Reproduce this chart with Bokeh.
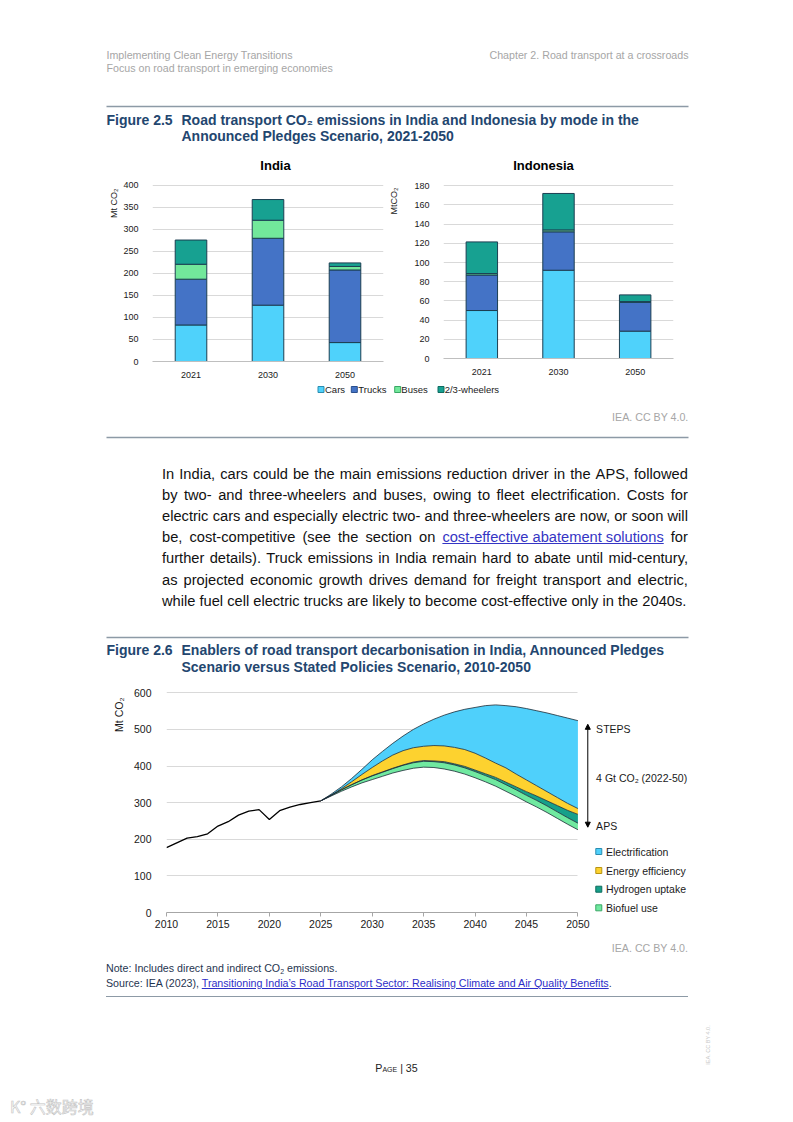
from bokeh.plotting import figure
from bokeh.models import (Range1d, FactorRange, Label, ColumnDataSource, FixedTicker,
                          Arrow, NormalHead, Div, Grid)
from bokeh.layouts import column, row
from bokeh.embed import file_html
from bokeh.resources import INLINE

FONT = "Liberation Sans"
GRAY = "#a6a6a6"
TITLE_C = "#23466f"
RULE_C = "#8d9aa6"
INK = "#1a1a1a"
EDGE = "#1c3f52"

# ---------------- Figure 2.5 data ----------------
years_25 = ["2021", "2030", "2050"]
modes = ["Cars", "Trucks", "Buses", "2/3-wheelers"]
india_cars = [83, 128, 43]
india_trucks = [104, 152, 165]
india_buses = [34, 41, 8]
india_23w = [55, 47, 8]
indo_cars = [50, 92, 28.5]
indo_trucks = [37, 40, 30]
indo_buses = [1.5, 2, 0.8]
indo_23w = [33, 38, 7]
india_ticks = [0, 50, 100, 150, 200, 250, 300, 350, 400]
indo_ticks = [0, 20, 40, 60, 80, 100, 120, 140, 160, 180]
mode_colors = ["#4fd2fb", "#4473c6", "#72e89b", "#17a191"]
mode_edges = ["#2b8db0", "#2a4f8e", "#3aa765", "#0e6b60"]

# ---------------- Figure 2.6 data ----------------
hist_years = list(range(2010, 2026))
hist_co2 = [177, 190, 203, 207, 215, 236, 248, 266, 277, 281, 254, 278, 288, 295, 300, 305]
proj_years = list(range(2025, 2051))
aps = [305, 318, 331, 343, 354, 363, 372, 381, 388, 394, 397, 396, 392, 386, 378,
       368, 357, 345, 331, 317, 302, 288, 273, 257, 241, 226]
biofuel = [0, 2, 4, 6, 8, 10, 11, 12, 14, 15, 16, 16, 17, 17, 17,
           17, 17, 18, 18, 18, 18, 18, 18, 18, 18, 18]
hydrogen = [0, 0, 0, 0, 0, 1, 1, 1, 1, 2, 2, 2, 3, 3, 4,
            4, 5, 6, 7, 8, 10, 12, 14, 17, 20, 24]
efficiency = [0, 0, 3, 8, 15, 22, 30, 36, 39, 39, 39, 42, 43, 45, 46,
              46, 43, 39, 39, 35, 32, 28, 25, 22, 19, 16]
electrification = [0, 3, 5, 9, 14, 21, 26, 32, 40, 50, 61, 72, 84, 97, 110,
                    125, 143, 159, 170, 184, 195, 205, 215, 224, 233, 240]
enablers = ["Electrification", "Energy efficiency", "Hydrogen uptake", "Biofuel use"]
enabler_colors = ["#4fd0fb", "#fdd22f", "#17a08a", "#70e9a0"]
enabler_edges = ["#2b8db0", "#b89412", "#0e6b5c", "#3aa765"]
x_ticks_26 = [2010, 2015, 2020, 2025, 2030, 2035, 2040, 2045, 2050]
y_ticks_26 = [0, 100, 200, 300, 400, 500, 600]


def lbl(p, x, y, text, size, color=INK, bold=False, align="left", baseline="middle",
        angle=0, font=FONT):
    p.add_layout(Label(x=x, y=y, text=text, text_font=font, text_font_size=f"{size}px",
                       text_color=color, text_font_style="bold" if bold else "normal",
                       text_align=align, text_baseline=baseline, angle=angle,
                       angle_units="deg"))


def page_fig(x0, x1, y0, y1):
    p = figure(width=x1 - x0, height=y1 - y0, x_range=Range1d(x0, x1), y_range=Range1d(y1, y0),
               x_axis_type=None, y_axis_type=None, min_border=0, toolbar_location=None,
               output_backend="svg", title=None, outline_line_color=None)
    p.background_fill_color = "white"
    p.border_fill_color = "white"
    return p


def rule(p, y):
    p.segment(x0=[106], x1=[688], y0=[y], y1=[y], line_color=RULE_C, line_width=1.5)


def W(p):
    return column(p, spacing=0)


# ---------------- Block A: header + title 2.5 + chart titles ----------------
top = page_fig(0, 793, 0, 178)
lbl(top, 106, 54, "Implementing Clean Energy Transitions", 10.67, GRAY)
lbl(top, 106, 67, "Focus on road transport in emerging economies", 10.67, GRAY)
lbl(top, 688, 54, "Chapter 2. Road transport at a crossroads", 10.67, GRAY, align="right")
rule(top, 106)
lbl(top, 106, 119, "Figure 2.5", 14, TITLE_C, bold=True)
lbl(top, 181, 119, "Road transport CO₂ emissions in India and Indonesia by mode in the", 14, TITLE_C, bold=True)
lbl(top, 181, 135, "Announced Pledges Scenario, 2021-2050", 14, TITLE_C, bold=True)
lbl(top, 275, 165, "India", 13, "#000", bold=True, align="center")
lbl(top, 543, 165, "Indonesia", 13, "#000", bold=True, align="center")


# ---------------- Bar charts ----------------
def bar_chart(vals, width, height, mbl, mbr, mbt, mbb, y_end, ticks):
    src = ColumnDataSource(dict(year=years_25, **{m: v for m, v in zip(modes, vals)}))
    p = figure(width=width, height=height, x_range=FactorRange(*years_25),
               y_range=Range1d(0, y_end), min_border_left=mbl, min_border_right=mbr,
               min_border_top=mbt, min_border_bottom=mbb, toolbar_location=None,
               output_backend="svg", title=None, outline_line_color=None)
    p.background_fill_color = "white"
    p.border_fill_color = "white"
    p.vbar_stack(modes, x="year", width=0.41, source=src, fill_color=mode_colors,
                 line_color=EDGE, line_width=1)
    p.yaxis.ticker = FixedTicker(ticks=ticks)
    p.yaxis.axis_line_color = None
    p.yaxis.major_tick_line_color = None
    p.yaxis.minor_tick_line_color = None
    p.yaxis.major_label_standoff = 8
    p.yaxis.major_label_text_font = FONT
    p.yaxis.major_label_text_font_size = "9px"
    p.yaxis.major_label_text_color = INK
    p.xaxis.axis_line_color = "#bfbfbf"
    p.xaxis.major_tick_line_color = None
    p.xaxis.major_label_standoff = 4
    p.xaxis.major_label_text_font = FONT
    p.xaxis.major_label_text_font_size = "9px"
    p.xaxis.major_label_text_color = INK
    p.xgrid.visible = False
    p.ygrid.grid_line_color = "#d9d9d9"
    return p


# page x: labL 0-120 | India 120-388 | labM 388-400 | Indonesia 400-793 ; page y 178-382
p_in = bar_chart([india_cars, india_trucks, india_buses, india_23w], 268, 204,
                 30, 5, 3, 21, 409, india_ticks)
p_id = bar_chart([indo_cars, indo_trucks, indo_buses, indo_23w], 393, 204,
                 43, 120, 2, 24, 185.5, indo_ticks)
labL = page_fig(0, 120, 178, 382)
lbl(labL, 113, 188, "Mt CO₂", 9, INK, align="right", angle=90)
labM = page_fig(388, 400, 178, 382)
lbl(labM, 393.5, 187, "MtCO₂", 9, INK, align="right", angle=90)

# ---------------- Block C: legend 2.5 ----------------
leg = page_fig(0, 793, 382, 450)
leg_sq_x = [320.5, 353.8, 397.2, 440.5]
leg_tx_x = [324.5, 357.8, 400.8, 444.2]
leg.scatter(x=leg_sq_x, y=[389] * 4, marker="square", size=6, fill_color=mode_colors,
            line_color=mode_edges, line_width=1)
for m, tx in zip(modes, leg_tx_x):
    lbl(leg, tx, 389, m, 9.5, INK)
lbl(leg, 688, 416, "IEA. CC BY 4.0.", 10.67, GRAY, align="right")
rule(leg, 437)

# ---------------- Paragraph ----------------
LINK = '<span style="color:#3535c4;text-decoration:underline;">cost-effective abatement solutions</span>'
para_lines = [
    "In India, cars could be the main emissions reduction driver in the APS, followed".split(" "),
    "by two- and three-wheelers and buses, owing to fleet electrification. Costs for".split(" "),
    "electric cars and especially electric two- and three-wheelers are now, or soon will".split(" "),
    ["be,", "cost-competitive", "(see", "the", "section", "on", LINK, "for"],
    "further details). Truck emissions in India remain hard to abate until mid-century,".split(" "),
    "as projected economic growth drives demand for freight transport and electric,".split(" "),
    "while fuel cell electric trucks are likely to become cost-effective only in the 2040s.".split(" "),
]
para_centers = [474, 495, 516, 537, 558, 580, 601]
ph = ['<div style="position:relative;width:793px;height:170px;font-family:\'Liberation Sans\',Arial,sans-serif;font-size:14.67px;color:#111;">']
for i, (words, cy) in enumerate(zip(para_lines, para_centers)):
    t = cy - 450 - 10.5
    if i < len(para_lines) - 1:
        inner = "".join(f"<span>{w}</span>" for w in words)
        ph.append(f'<div style="position:absolute;left:162px;top:{t}px;width:526px;height:21px;'
                  f'line-height:21px;display:flex;justify-content:space-between;white-space:nowrap;">{inner}</div>')
    else:
        ph.append(f'<div style="position:absolute;left:162px;top:{t}px;height:21px;line-height:21px;'
                  f'white-space:nowrap;">{" ".join(words)}</div>')
ph.append("</div>")
para = Div(text="".join(ph), width=793, height=170, margin=(0, 0, 0, 0))

# ---------------- Block E: title 2.6 ----------------
mid = page_fig(0, 793, 620, 680)
rule(mid, 637)
lbl(mid, 106, 649, "Figure 2.6", 14, TITLE_C, bold=True)
lbl(mid, 181, 649, "Enablers of road transport decarbonisation in India, Announced Pledges", 14, TITLE_C, bold=True)
lbl(mid, 181, 666, "Scenario versus Stated Policies Scenario, 2010-2050", 14, TITLE_C, bold=True)

# ---------------- Figure 2.6 chart (page x 130-793, y 680-940) ----------------
p26 = figure(width=663, height=260, x_range=Range1d(2010, 2070.96), y_range=Range1d(0, 620),
             min_border_left=31, min_border_right=0, min_border_top=5, min_border_bottom=28,
             toolbar_location=None, output_backend="svg", title=None, outline_line_color=None)
p26.background_fill_color = "white"
p26.border_fill_color = "white"
p26.xaxis.ticker = FixedTicker(ticks=x_ticks_26)
p26.xaxis.bounds = (2010, 2050)
p26.xaxis.axis_line_color = "#a6a6a6"
p26.xaxis.major_tick_line_color = "#a6a6a6"
p26.xaxis.major_tick_out = 4
p26.xaxis.major_tick_in = 0
p26.xaxis.minor_tick_line_color = None
p26.xaxis.major_label_standoff = 3
p26.xaxis.major_label_text_font = FONT
p26.xaxis.major_label_text_font_size = "10.5px"
p26.xaxis.major_label_text_color = INK
p26.yaxis.ticker = FixedTicker(ticks=y_ticks_26)
p26.yaxis.axis_line_color = None
p26.yaxis.major_tick_line_color = None
p26.yaxis.minor_tick_line_color = None
p26.yaxis.major_label_standoff = 9
p26.yaxis.major_label_text_font = FONT
p26.yaxis.major_label_text_font_size = "10.5px"
p26.yaxis.major_label_text_color = INK
p26.xgrid.visible = False
p26.ygrid.grid_line_color = "#d9d9d9"
if "cross_bounds" in Grid.properties():
    p26.ygrid.cross_bounds = (2010, 2050)
else:
    p26.quad(left=[2050.05], right=[2071], bottom=[0], top=[620], fill_color="white", line_color=None)

src26 = ColumnDataSource(dict(year=proj_years, aps=aps, bio=biofuel, h2=hydrogen,
                              eff=efficiency, elec=electrification))
stack_keys = ["aps", "bio", "h2", "eff", "elec"]
p26.varea_stack(stack_keys, x="year", source=src26,
                fill_color=["white", enabler_colors[3], enabler_colors[2], enabler_colors[1], enabler_colors[0]],
                fill_alpha=[0, 1, 1, 1, 1])
p26.vline_stack(stack_keys, x="year", source=src26, line_color="#1c2b36", line_width=0.8)
p26.line(hist_years, hist_co2, line_color="black", line_width=1.3)

steps_2050 = aps[-1] + biofuel[-1] + hydrogen[-1] + efficiency[-1] + electrification[-1]
p26.add_layout(Arrow(start=NormalHead(size=5, line_color="black", fill_color="black"),
                     end=NormalHead(size=5, line_color="black", fill_color="black"),
                     x_start=2050.96, y_start=aps[-1] + 7, x_end=2050.96, y_end=steps_2050 - 10,
                     line_color="black", line_width=1))
lbl(p26, 2051.77, 502.5, "STEPS", 10.5, INK)
lbl(p26, 2051.77, 368.7, "4 Gt CO₂ (2022-50)", 10.5, INK)
lbl(p26, 2051.77, 234.9, "APS", 10.5, INK)
leg26_y = [166.6, 114.7, 63.6, 12.8]
p26.scatter(x=[2052.03] * 4, y=leg26_y, marker="square", size=6, fill_color=enabler_colors,
            line_color=enabler_edges, line_width=1)
for name, yy in zip(enablers, leg26_y):
    lbl(p26, 2052.73, yy, name, 10.5, INK)
lab26 = page_fig(0, 130, 680, 940)
lbl(lab26, 118, 697, "Mt CO₂", 10.5, INK, align="right", angle=90)

# ---------------- Bottom block (page y 940-1122) ----------------
bottom_html = f'''<div style="position:relative;width:793px;height:182px;font-family:'Liberation Sans',Arial,sans-serif;">
<div style="position:absolute;right:105px;top:1px;font-size:10.67px;line-height:14px;color:{GRAY};white-space:nowrap;">IEA. CC BY 4.0.</div>
<div style="position:absolute;left:106px;top:21px;font-size:10.67px;line-height:14px;color:#1f3550;white-space:nowrap;">Note: Includes direct and indirect CO<span style="font-size:7px;vertical-align:-2px;">2</span> emissions.</div>
<div style="position:absolute;left:106px;top:36px;font-size:10.67px;line-height:14px;color:#1f3550;white-space:nowrap;">Source: IEA (2023), <span style="color:#2e2ec8;text-decoration:underline;">Transitioning India’s Road Transport Sector: Realising Climate and Air Quality Benefits</span>.</div>
<div style="position:absolute;left:106px;top:56px;width:582px;height:0;border-top:1.5px solid {RULE_C};"></div>
<div style="position:absolute;left:0;top:121px;width:793px;text-align:center;font-size:10.67px;line-height:14px;color:#222;"><span style="font-variant:small-caps;">Page</span> | 35</div>
<div style="position:absolute;left:709px;top:105px;transform:translate(-50%,-50%) rotate(-90deg);font-size:5.5px;color:#c8c8c8;white-space:nowrap;">IEA. CC BY 4.0.</div>
<div style="position:absolute;left:10px;top:157px;font-family:'Noto Sans CJK SC';font-size:16px;line-height:18px;color:#ffffff;-webkit-text-stroke:0.6px #c4c4c4;white-space:nowrap;">K° 六数跨境</div>
</div>'''
bottom = Div(text=bottom_html, width=793, height=182, margin=(0, 0, 0, 0))

layout = column(
    W(top),
    row(W(labL), W(p_in), W(labM), W(p_id), spacing=0),
    W(leg),
    para,
    W(mid),
    row(W(lab26), W(p26), spacing=0),
    bottom,
    spacing=0,
)
open("out.html", "w").write(file_html(layout, INLINE))
